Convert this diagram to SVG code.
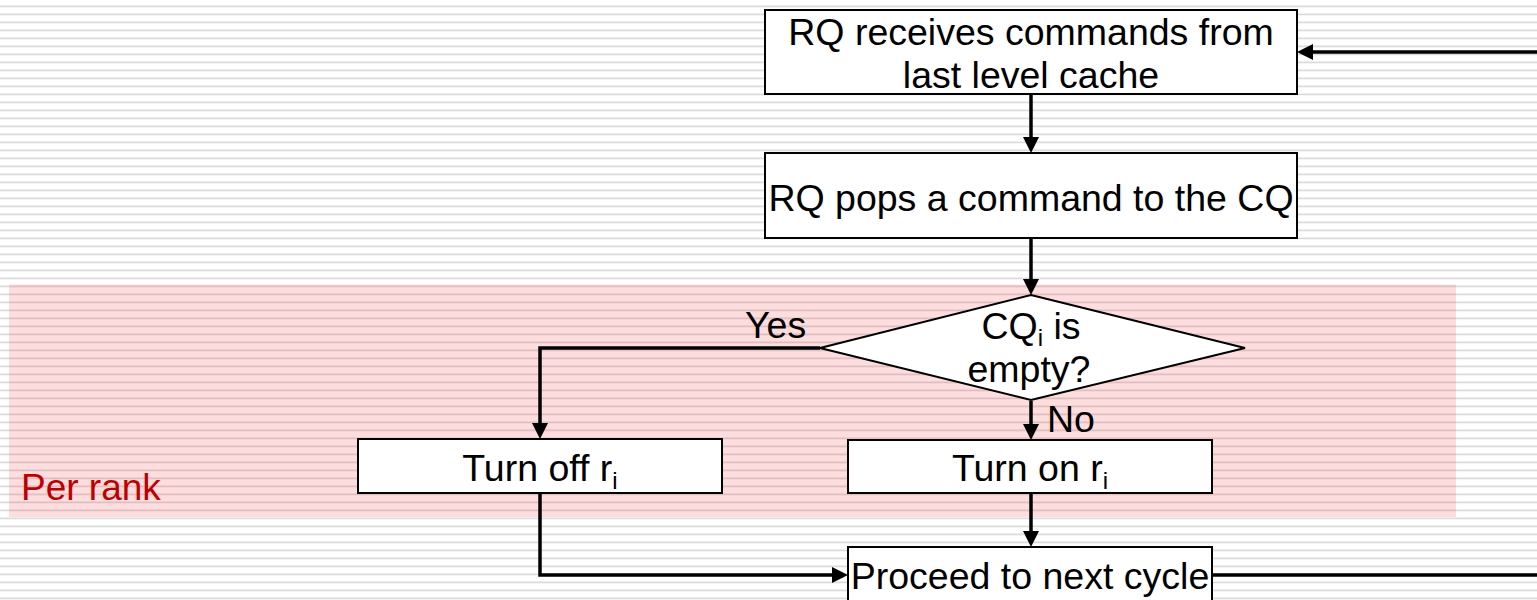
<svg xmlns="http://www.w3.org/2000/svg" width="1537" height="600" viewBox="0 0 1537 600">
  <style>
    .box { fill: #ffffff; stroke: #000000; stroke-width: 2; }
    .lbl { font-family: "Liberation Sans", Arial, sans-serif; font-size: 37.5px; fill: #000000; }
    .mid { text-anchor: middle; }
    .conn { fill: none; stroke: #000000; stroke-width: 3.5; }
    .sub { font-size: 24px; }
  </style>
  <defs>
    <pattern id="bgLines" x="0" y="0" width="1537" height="8" patternUnits="userSpaceOnUse">
      <rect x="0" y="5.5" width="1537" height="1.8" fill="#DCDCDC"/>
    </pattern>
    <marker id="arrow" viewBox="0 0 10 10" markerWidth="16" markerHeight="16" refX="6.9" refY="5" orient="auto" markerUnits="userSpaceOnUse">
      <path d="M0,0 L10,5 L0,10 z" fill="#000000"/>
    </marker>
  </defs>

  <rect x="0" y="0" width="1537" height="600" fill="#ffffff"/>
  <rect x="0" y="0" width="1537" height="600" fill="url(#bgLines)"/>

  <g id="per-rank-region">
    <rect x="9" y="284.5" width="1447" height="232.5" fill="rgb(250,30,40)" fill-opacity="0.15"/>
    <text x="21" y="500" font-family="Liberation Sans, Arial, sans-serif" font-size="37" fill="#C00000">Per rank</text>
  </g>

  <g id="connectors">
    <path class="conn" d="M1031,94 V148" marker-end="url(#arrow)"/>
    <path class="conn" d="M1031,238 V290" marker-end="url(#arrow)"/>
    <path class="conn" d="M820,348 H540 V434" marker-end="url(#arrow)"/>
    <path class="conn" d="M1031,401 V435" marker-end="url(#arrow)"/>
    <path class="conn" d="M540,493 V575 H843" marker-end="url(#arrow)"/>
    <path class="conn" d="M1031,493 V542" marker-end="url(#arrow)"/>
    <path class="conn" d="M1212,575 H1537"/>
    <path class="conn" d="M1537,52 H1302" marker-end="url(#arrow)"/>
    <text class="lbl" x="745" y="338">Yes</text>
    <text class="lbl" x="1047" y="432">No</text>
  </g>

  <g id="node-receive">
    <rect class="box" x="765" y="10" width="532" height="84"/>
    <text class="lbl mid" x="1031" y="45">RQ receives commands from</text>
    <text class="lbl mid" x="1031" y="88">last level cache</text>
  </g>

  <g id="node-pop">
    <rect class="box" x="765" y="153" width="532" height="85"/>
    <text class="lbl mid" x="1031" y="211">RQ pops a command to the CQ</text>
  </g>

  <g id="node-decision">
    <polygon class="box" points="1031,295 1245,348 1031,400 820,348"/>
    <text class="lbl mid" x="1031" y="339">CQ<tspan class="sub" dy="7">i</tspan><tspan dy="-7"> is</tspan></text>
    <text class="lbl mid" x="1029" y="382">empty?</text>
  </g>

  <g id="node-turn-off">
    <rect class="box" x="358" y="439" width="364" height="54"/>
    <text class="lbl mid" x="540" y="481">Turn off r<tspan class="sub" dy="8">i</tspan></text>
  </g>

  <g id="node-turn-on">
    <rect class="box" x="848" y="440" width="364" height="53"/>
    <text class="lbl mid" x="1030" y="481">Turn on r<tspan class="sub" dy="8">i</tspan></text>
  </g>

  <g id="node-proceed">
    <rect class="box" x="848" y="547" width="364" height="60"/>
    <text class="lbl mid" x="1030" y="589">Proceed to next cycle</text>
  </g>
</svg>
